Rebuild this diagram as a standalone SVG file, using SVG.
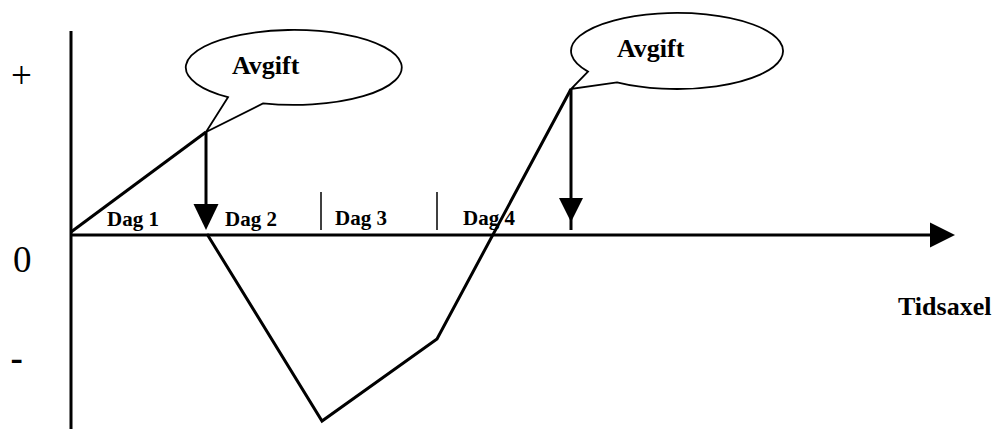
<svg xmlns="http://www.w3.org/2000/svg" width="995" height="429" viewBox="0 0 995 429">
  <style>
    .axis { stroke: #000; stroke-width: 3; fill: none; }
    .curve { stroke: #000; stroke-width: 3; fill: none; stroke-linejoin: miter; }
    .tick { stroke: #000; stroke-width: 1.5; }
    .fee { stroke: #000; stroke-width: 3; }
    .head { fill: #000; }
    .bubble { fill: #fff; stroke: #000; stroke-width: 1.8; stroke-linejoin: miter; }
    .lbl { font-family: "Liberation Serif", "Times New Roman", serif; font-weight: bold; fill: #000; }
    .day { font-size: 21px; }
    .big { font-size: 26px; }
    .sign { font-family: "Liberation Serif", "Times New Roman", serif; font-size: 37px; fill: #000; }
  </style>

  <!-- axes -->
  <g id="axes">
    <line class="axis" x1="71" y1="31" x2="71" y2="429"/>
    <line class="axis" x1="71" y1="235" x2="932" y2="235"/>
    <polygon class="head" points="930,222.5 955,235 930,247.5"/>
  </g>

  <!-- value labels on the y axis -->
  <g id="y-labels">
    <text class="sign" x="11" y="88">+</text>
    <text class="sign" x="13" y="272">0</text>
    <text class="sign" x="10.5" y="369.5" font-weight="bold">-</text>
  </g>

  <!-- day separators -->
  <g id="ticks">
    <line class="tick" x1="321" y1="192" x2="321" y2="230"/>
    <line class="tick" x1="437" y1="192" x2="437" y2="230"/>
  </g>

  <!-- day labels -->
  <g id="days">
    <text class="lbl day" x="107" y="226">Dag 1</text>
    <text class="lbl day" x="225" y="226">Dag 2</text>
    <text class="lbl day" x="335" y="225">Dag 3</text>
    <text class="lbl day" x="463" y="225">Dag 4</text>
  </g>

  <text id="time-axis-label" class="lbl big" x="898" y="315">Tidsaxel</text>

  <!-- balance over time -->
  <g id="connectors">
    <polyline class="curve" points="71,232 206,132"/>
    <polyline class="curve" points="207,234 322,421 437,339 571,89"/>
    <!-- fee withdrawals -->
    <line class="fee" x1="206" y1="132" x2="206" y2="206"/>
    <polygon class="head" points="193.5,204 218.5,204 206,230"/>
    <line class="fee" x1="571" y1="89" x2="571" y2="230"/>
    <polygon class="head" points="559,198 583,198 571,222"/>
  </g>

  <!-- callouts -->
  <g id="callout-1">
    <path class="bubble" d="M 228 97.2 L 206 132 L 263 103.4 A 108 37.5 0 1 0 228 97.2 Z"/>
    <text class="lbl big" x="232" y="74">Avgift</text>
  </g>
  <g id="callout-2">
    <path class="bubble" d="M 588 71.6 L 571 89 L 617 82.3 A 106 38 0 1 0 588 71.6 Z"/>
    <text class="lbl big" x="617" y="57">Avgift</text>
  </g>
</svg>
